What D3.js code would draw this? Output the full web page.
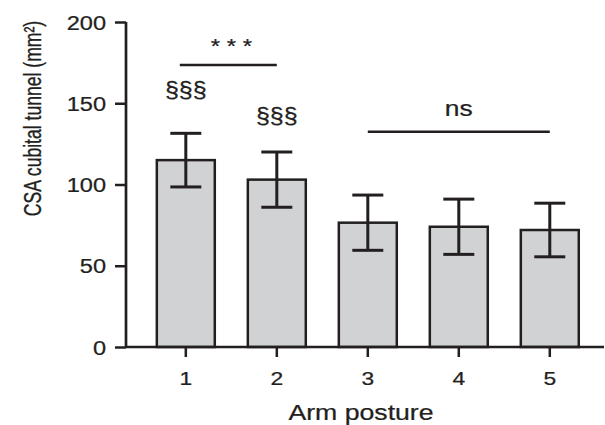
<!DOCTYPE html>
<html>
<head>
<meta charset="utf-8">
<script src="https://cdn.jsdelivr.net/npm/d3@7"></script>
<style>
  body { margin: 0; background: #fff; }
  text { font-family: "Liberation Sans", Arial, sans-serif; fill: #231f20; stroke: #231f20; stroke-width: 0.25px; }
</style>
</head>
<body>
<div id="chart-area"></div>
<script>
// data
const postures = ["1", "2", "3", "4", "5"];
const means = [115, 103, 76.5, 74, 72];
const sds = [16.5, 17, 17, 17, 16.5];
const yTicks = [0, 50, 100, 150, 200];
const sectionMarks = [{ p: "1", label: "§§§", at: 154 }, { p: "2", label: "§§§", at: 138 }];
const brackets = [
  { from: "1", to: "2", at: 173.5, label: "* * *", labelAt: 181 },
  { from: "3", to: "5", at: 132.5, label: "ns", labelAt: 142 }
];

const WIDTH = 605, HEIGHT = 425;
const INK = "#231f20";
const SX = 1.2; // text in the figure is stretched horizontally

const x = d3.scaleBand()
  .domain(postures)
  .range([126, 604])
  .paddingInner(0.363)
  .paddingOuter(0.308)
  .align(0.55);

const y = d3.scaleLinear()
  .domain([0, 200])
  .range([347, 22]);

const svg = d3.select("#chart-area").append("svg")
  .attr("width", WIDTH)
  .attr("height", HEIGHT);

const cx = p => x(p) + x.bandwidth() / 2;

// stretched text helper
function label(gx, gy, str, size, anchor, sx, rot) {
  return svg.append("g")
    .attr("transform", `translate(${gx},${gy}) scale(${sx},1)` + (rot ? ` rotate(${rot})` : ""))
    .append("text")
    .attr("text-anchor", anchor)
    .style("font-size", size + "px")
    .text(str);
}

// bars
svg.selectAll("rect.bar").data(postures)
  .enter().append("rect")
  .attr("class", "bar")
  .attr("x", d => x(d))
  .attr("y", (d, i) => y(means[i]))
  .attr("width", x.bandwidth())
  .attr("height", (d, i) => y(0) - y(means[i]))
  .attr("fill", "#d1d2d4")
  .attr("stroke", INK)
  .attr("stroke-width", 2.5);

// error bars
const capW = 31;
const err = svg.append("g").attr("stroke", INK).attr("stroke-width", 3);
postures.forEach((p, i) => {
  const lo = y(means[i] - sds[i]), hi = y(means[i] + sds[i]);
  err.append("line").attr("x1", cx(p)).attr("x2", cx(p)).attr("y1", lo).attr("y2", hi);
  err.append("line").attr("x1", cx(p) - capW / 2).attr("x2", cx(p) + capW / 2).attr("y1", lo).attr("y2", lo);
  err.append("line").attr("x1", cx(p) - capW / 2).attr("x2", cx(p) + capW / 2).attr("y1", hi).attr("y2", hi);
});

// y axis
const yAxis = svg.append("g")
  .attr("transform", "translate(126,0)")
  .call(d3.axisLeft(y).tickValues(yTicks).tickSize(11).tickFormat(""));
yAxis.select(".domain").attr("stroke", INK).attr("stroke-width", 2.7).attr("d", `M0,${y(200)}V${y(0)}`);
yAxis.selectAll(".tick line").attr("stroke", INK).attr("stroke-width", 2.5);
yTicks.forEach(v => label(106, y(v) + 7.5, String(v), 20.5, "end", 1.15));

// x axis
const xAxis = svg.append("g")
  .attr("transform", `translate(0,${y(0)})`)
  .call(d3.axisBottom(x).tickSize(10).tickFormat(""));
xAxis.select(".domain").attr("stroke", INK).attr("stroke-width", 2.7).attr("d", "M126,0H604");
xAxis.selectAll(".tick line").attr("stroke", INK).attr("stroke-width", 2.5);
postures.forEach(p => label(cx(p), 385, p, 19, "middle", SX));

// axis titles
label(361, 420, "Arm posture", 21.5, "middle", 1.24);
label(41, 118.5, "CSA cubital tunnel (mm²)", 17.6, "middle", 1.38, -90);

// significance brackets
brackets.forEach(b => {
  svg.append("line")
    .attr("x1", cx(b.from) - (b.from === "1" ? 6 : 0)).attr("x2", cx(b.to))
    .attr("y1", y(b.at)).attr("y2", y(b.at))
    .attr("stroke", INK).attr("stroke-width", 2.5);
  label((cx(b.from) + cx(b.to)) / 2, y(b.labelAt), b.label, b.label === "ns" ? 22 : 20, "middle", SX);
});

// section marks above bars
sectionMarks.forEach(s => label(cx(s.p), y(s.at), s.label, 22, "middle", 1.14));
</script>
</body>
</html>
